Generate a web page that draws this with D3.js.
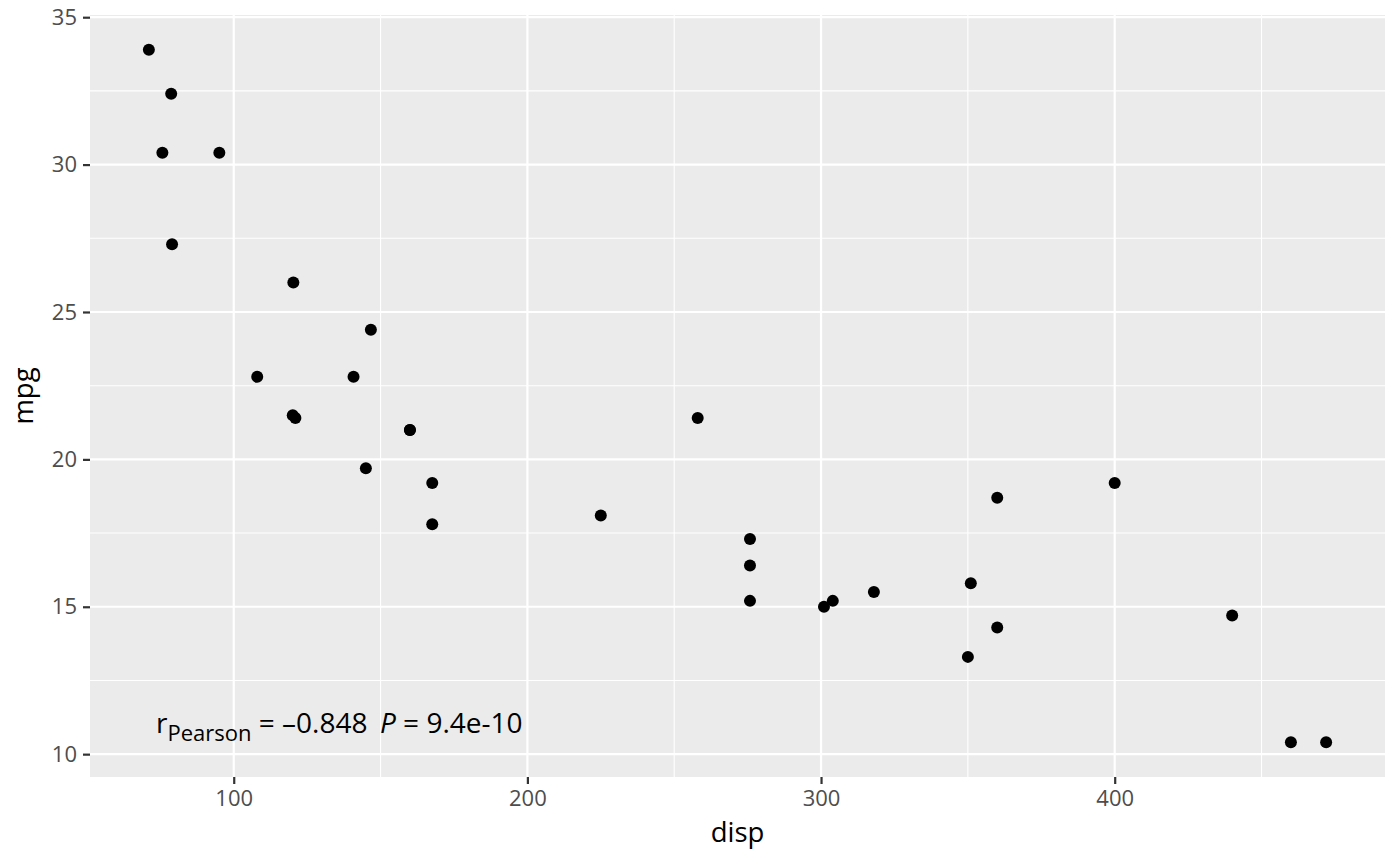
<!DOCTYPE html>
<html>
<head>
<meta charset="utf-8">
<script src="https://cdn.jsdelivr.net/npm/d3@7"></script>
<style>
  body { margin: 0; background: #fff; }
  svg { display: block; font-family: "Open Sans", "Noto Sans", sans-serif; }
</style>
</head>
<body>
<div id="chart"></div>
<script>
const width = 1400, height = 866;
const margin = { top: 15, right: 15, bottom: 89, left: 90 };
const innerWidth = width - margin.left - margin.right;
const innerHeight = height - margin.top - margin.bottom;

// mtcars: displacement vs miles per gallon
const disp = [160, 160, 108, 258, 360, 225, 360, 146.7, 140.8, 167.6, 167.6, 275.8, 275.8, 275.8,
    472, 460, 440, 78.7, 75.7, 71.1, 120.1, 318, 304, 350, 400, 79, 120.3, 95.1, 351, 145, 301, 121];
const mpg = [21, 21, 22.8, 21.4, 18.7, 18.1, 14.3, 24.4, 22.8, 19.2, 17.8, 16.4, 17.3, 15.2,
    10.4, 10.4, 14.7, 32.4, 30.4, 33.9, 21.5, 15.5, 15.2, 13.3, 19.2, 27.3, 26, 30.4, 15.8, 19.7, 15, 21.4];
const xTicks = [100, 200, 300, 400];
const xMinor = [50, 150, 250, 350, 450];
const yTicks = [10, 15, 20, 25, 30, 35];
const yMinor = [12.5, 17.5, 22.5, 27.5, 32.5];
const corrR = "–0.848";
const corrP = "9.4e-10";

const points = disp.map((d, i) => ({ disp: d, mpg: mpg[i] }));

const xExt = d3.extent(disp), yExt = d3.extent(mpg);
const xPad = (xExt[1] - xExt[0]) * 0.05, yPad = (yExt[1] - yExt[0]) * 0.05;

const xScale = d3.scaleLinear()
    .domain([xExt[0] - xPad, xExt[1] + xPad])
    .range([0, innerWidth]);
const yScale = d3.scaleLinear()
    .domain([yExt[0] - yPad, yExt[1] + yPad])
    .range([innerHeight, 0]);

const svg = d3.select("#chart").append("svg")
    .attr("width", width).attr("height", height);

const innerChart = svg.append("g")
    .attr("transform", `translate(${margin.left}, ${margin.top})`);

innerChart.append("rect")
    .attr("width", innerWidth).attr("height", innerHeight)
    .attr("fill", "#ebebeb");

// minor grid
innerChart.selectAll(".x-minor")
    .data(xMinor.filter(v => xScale(v) > 0 && xScale(v) < innerWidth))
    .join("line")
        .attr("x1", d => xScale(d)).attr("x2", d => xScale(d))
        .attr("y1", 0).attr("y2", innerHeight)
        .attr("stroke", "#fff").attr("stroke-width", 1.1);
innerChart.selectAll(".y-minor")
    .data(yMinor)
    .join("line")
        .attr("y1", d => yScale(d)).attr("y2", d => yScale(d))
        .attr("x1", 0).attr("x2", innerWidth)
        .attr("stroke", "#fff").attr("stroke-width", 1.1);

// major grid
innerChart.selectAll(".x-major")
    .data(xTicks)
    .join("line")
        .attr("x1", d => xScale(d)).attr("x2", d => xScale(d))
        .attr("y1", 0).attr("y2", innerHeight)
        .attr("stroke", "#fff").attr("stroke-width", 2.2);
innerChart.selectAll(".y-major")
    .data(yTicks)
    .join("line")
        .attr("y1", d => yScale(d)).attr("y2", d => yScale(d))
        .attr("x1", 0).attr("x2", innerWidth)
        .attr("stroke", "#fff").attr("stroke-width", 2.2);

// axes
const xAxis = innerChart.append("g")
    .attr("transform", `translate(0, ${innerHeight})`)
    .call(d3.axisBottom(xScale).tickValues(xTicks).tickSize(7).tickPadding(6));
const yAxis = innerChart.append("g")
    .call(d3.axisLeft(yScale).tickValues(yTicks).tickSize(7).tickPadding(6));

[xAxis, yAxis].forEach(ax => {
    ax.attr("font-size", null).attr("font-family", null);
    ax.select(".domain").remove();
    ax.selectAll(".tick line").attr("stroke", "#333").attr("stroke-width", 2.2);
    ax.selectAll(".tick text")
        .attr("fill", "#4d4d4d")
        .attr("font-size", 22);
});

// points
innerChart.selectAll(".pt")
    .data(points)
    .join("circle")
        .attr("class", "pt")
        .attr("cx", d => xScale(d.disp))
        .attr("cy", d => yScale(d.mpg))
        .attr("r", 6)
        .attr("fill", "#000");

// correlation label, laid out piece by piece (subscript + italic P)
const labelParts = [
    { text: "r", size: 28, dy: 0 },
    { text: "Pearson", size: 22, dy: 8 },
    { text: "\u00a0=\u00a0", size: 28, dy: 0 },
    { text: corrR, size: 28, dy: 0, kern: -2 },
    { text: "\u00a0\u00a0", size: 28, dy: 0 },
    { text: "P", size: 28, dy: 0, italic: true },
    { text: "\u00a0=\u00a0" + corrP, size: 28, dy: 0 }
];
let cursor = 156;
const baseY = 733;
labelParts.forEach(p => {
    const t = svg.append("text")
        .attr("x", cursor).attr("y", baseY + p.dy)
        .attr("fill", "#000")
        .attr("font-size", p.size)
        .attr("font-style", p.italic ? "italic" : "normal")
        .text(p.text);
    cursor += t.node().getComputedTextLength() + (p.kern || 0);
});

// axis titles
svg.append("text")
    .attr("x", margin.left + innerWidth / 2).attr("y", 842)
    .attr("text-anchor", "middle")
    .attr("font-size", 27.5)
    .text("disp");
svg.append("text")
    .attr("transform", `translate(33, ${margin.top + innerHeight / 2}) rotate(-90)`)
    .attr("text-anchor", "middle")
    .attr("font-size", 27.5)
    .text("mpg");
</script>
</body>
</html>
